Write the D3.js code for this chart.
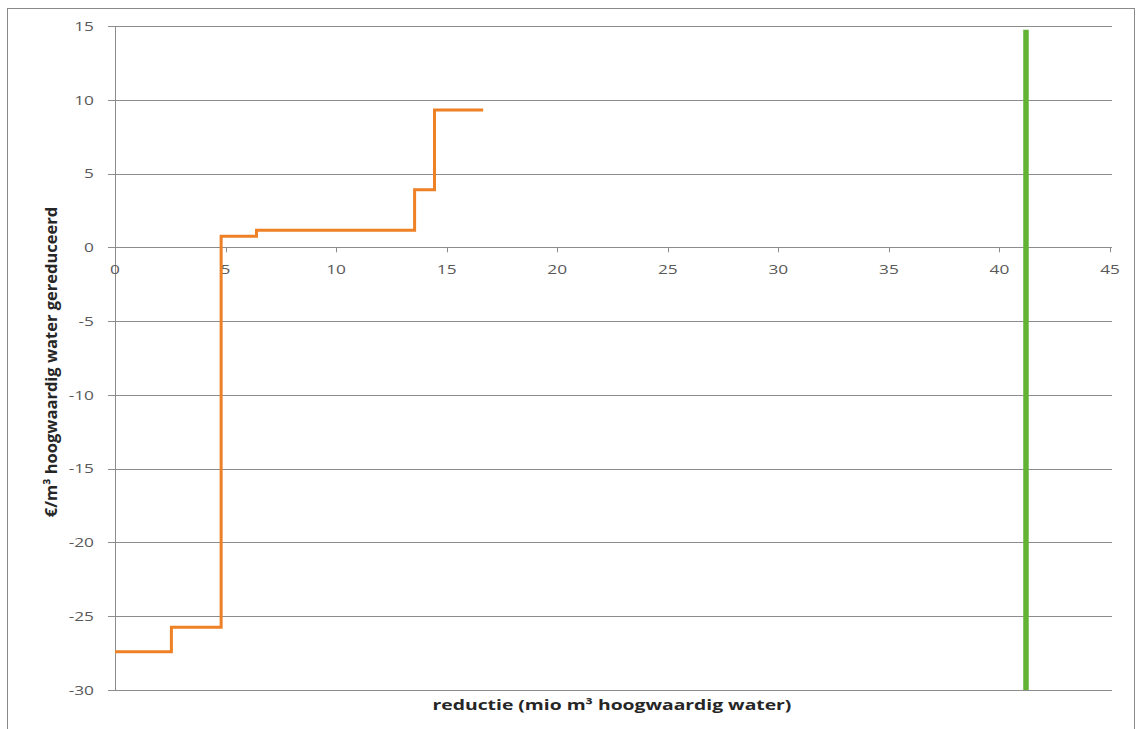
<!DOCTYPE html>
<html><head><meta charset="utf-8">
<script src="https://d3js.org/d3.v7.min.js"></script>
<style>body{margin:0;background:#fff}svg{display:block}</style>
</head><body><svg id="c" width="1136" height="729"></svg>
<script>
// Data
const stepX = [0, 2.55, 4.8, 6.4, 13.55, 14.45, 16.65];
const stepY = [-27.4, -25.75, 0.75, 1.15, 3.9, 9.3];
const limitX = 41.2;
const limitY = [-30, 14.75];
const xTicks = [0,5,10,15,20,25,30,35,40,45];
const yTicks = [15,10,5,0,-5,-10,-15,-20,-25,-30];
const xTitle = "reductie (mio m³ hoogwaardig water)";
const yTitle = "€/m³ hoogwaardig water gereduceerd";

const svg = d3.select("#c");
const x = d3.scaleLinear().domain([0,45]).range([115,1110]);
const y = d3.scaleLinear().domain([-30,15]).range([690,26]);
const font = "'Open Sans', 'Liberation Sans', sans-serif";
const sx = 1.33;

// outer frame
svg.append("rect").attr("x",7.5).attr("y",8.5).attr("width",1127).attr("height",730)
  .attr("fill","#fff").attr("stroke","#8a8a8a").attr("stroke-width",1);

// gridlines
svg.append("g").selectAll("line").data(yTicks).join("line")
  .attr("x1",108).attr("x2",1112)
  .attr("y1",d=>Math.round(y(d))+0.5).attr("y2",d=>Math.round(y(d))+0.5)
  .attr("stroke","#8c8c8c").attr("stroke-width",1);

// y axis line
svg.append("line").attr("x1",x(0)+0.5).attr("x2",x(0)+0.5)
  .attr("y1",y(15)).attr("y2",y(-30)).attr("stroke","#8c8c8c");

// x ticks at y=0
svg.append("g").selectAll("line").data(xTicks).join("line")
  .attr("x1",d=>Math.round(x(d))+0.5).attr("x2",d=>Math.round(x(d))+0.5)
  .attr("y1",y(0)).attr("y2",y(0)+5).attr("stroke","#8c8c8c");

// y tick labels
svg.append("g").selectAll("text").data(yTicks).join("text")
  .attr("transform",d=>`translate(94,${y(d)+4.8}) scale(${sx},1)`).attr("text-anchor","end")
  .attr("font-family",font).attr("font-size",13).attr("fill","#595959")
  .text(d=>d);

// x tick labels
svg.append("g").selectAll("text").data(xTicks).join("text")
  .attr("transform",d=>`translate(${x(d)},${y(0)+27}) scale(${sx},1)`).attr("text-anchor","middle")
  .attr("font-family",font).attr("font-size",13).attr("fill","#595959")
  .text(d=>d);

// step line
const pts = [];
for (let i=0;i<stepY.length;i++){ pts.push([stepX[i],stepY[i]]); pts.push([stepX[i+1],stepY[i]]); }
svg.append("path").datum(pts)
  .attr("d", d3.line().x(d=>x(d[0])).y(d=>y(d[1])))
  .attr("fill","none").attr("stroke","#EE8026").attr("stroke-width",3);

// limit line
svg.append("line").attr("x1",x(limitX)).attr("x2",x(limitX))
  .attr("y1",y(limitY[0])).attr("y2",y(limitY[1]))
  .attr("stroke","#62B236").attr("stroke-width",5.5);

// titles
svg.append("text").attr("transform",`translate(612,710) scale(1.38,1)`).attr("text-anchor","middle")
  .attr("font-family",font).attr("font-weight","bold").attr("font-size",14).attr("fill","#262626")
  .text(xTitle);
svg.append("text").attr("transform","translate(57,362) rotate(-90)").attr("text-anchor","middle")
  .attr("font-family",font).attr("font-weight","bold").attr("font-size",16.5).attr("fill","#262626")
  .text(yTitle);
</script></body></html>
